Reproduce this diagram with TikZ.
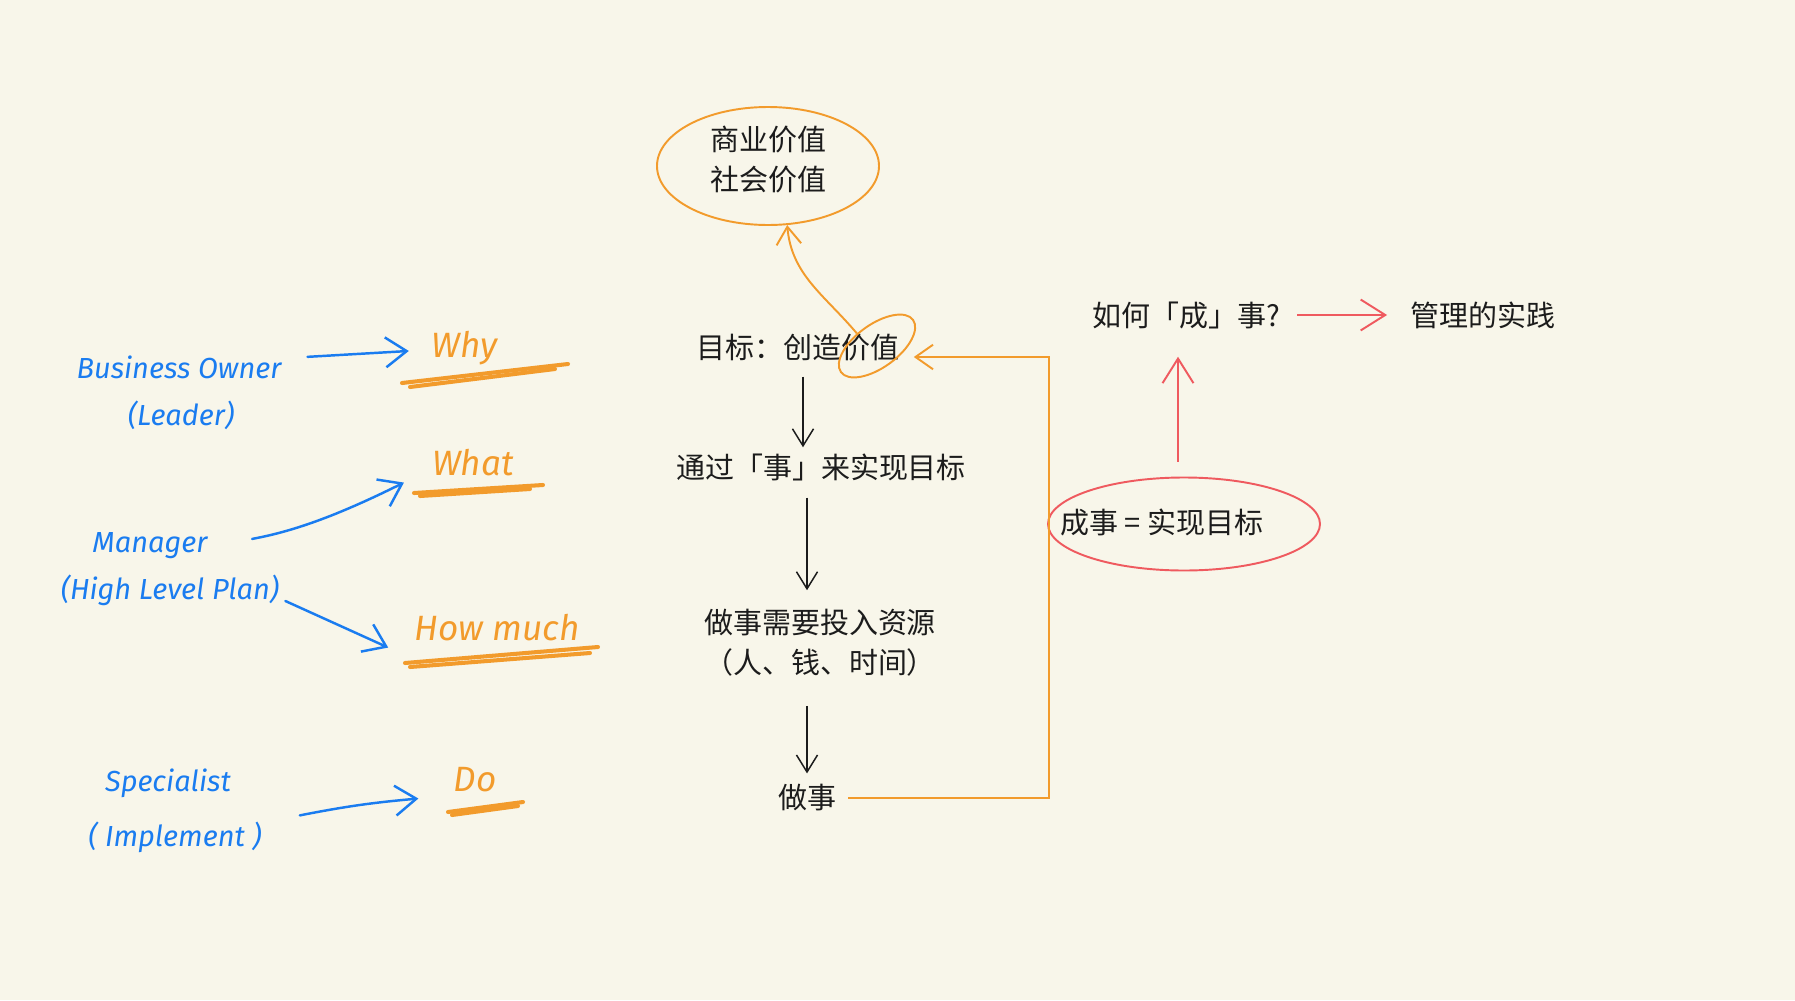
\documentclass[tikz,border=0pt]{standalone}
\usepackage{fontspec}
\setmainfont{Noto Sans CJK SC}
\newfontfamily\handfont{Fira Sans}
\usepackage{tikz}
\usetikzlibrary{positioning, arrows.meta, shapes.geometric}

\definecolor{paper}{HTML}{F8F6EA}
\definecolor{inkblue}{HTML}{1A7CF0}
\definecolor{inkorange}{HTML}{F29B2C}
\definecolor{inkred}{HTML}{EF5A5F}
\definecolor{inkblack}{HTML}{1C1C1C}

\begin{document}
\begin{tikzpicture}[x=0.2mm, y=-0.2mm, node distance=2mm,
  cn/.style={text=inkblack, font=\fontsize{16.5}{22.8}\selectfont, align=center},
  hw/.style={text=inkblue, font=\handfont\itshape\fontsize{16.5}{20}\selectfont},
  ask/.style={text=inkorange, font=\handfont\itshape\fontsize{20}{24}\selectfont},
  flowarrow/.style={draw=inkblack, line width=0.85pt, -{Straight Barb[length=9.7pt, width=12pt]}},
  handarrow/.style={draw=inkblue, line width=1.4pt, line cap=round, -{Straight Barb[length=12pt, width=17pt]}},
  backline/.style={draw=inkorange, line width=1.1pt, -{Straight Barb[length=10pt, width=14pt]}},
  redarrow/.style={draw=inkred, line width=1.1pt, -{Straight Barb[length=14pt, width=17.6pt]}},
  scribble/.style={draw=inkorange, line width=2.3pt, line cap=round},
  ring/.style={draw, ellipse, line width=1.1pt, inner sep=0pt},
]
\fill[paper] (0,0) rectangle (1795,1000);

% main chain
\node[ring, draw=inkorange, minimum width=44.4mm, minimum height=23.6mm] (values) at (768,166) {};
\node[cn] (valuestext) at (768,160) {商业价值\\社会价值};
\node[cn] (goal) at (798,348) {目标：创造价值};
\node[ring, draw=inkorange, minimum width=17.8mm, minimum height=8.6mm, rotate=36] (valring) at (877,346) {};
\node[cn] (via) at (821,467) {通过「事」来实现目标};
\node[cn] (need) at (820,643) {做事需要投入资源\\（人、钱、时间）};
\node[cn] (doit) at (807,798) {做事};

% right part
\node[cn] (how) at (1186,315) {如何「成」事?};
\node[cn, right=23.6mm of how] (practice) {管理的实践};
\node[ring, draw=inkred, minimum width=54.4mm, minimum height=18.6mm] (success) at (1184,524) {};
\node[cn] (successtext) at (1162,522) {成事 = 实现目标};

% left part, hand written
\node[hw] (owner) at (179,367) {Business Owner};
\node[hw] (leader) at (181,415) {(Leader)};
\node[hw] (manager) at (150,546) {Manager};
\node[hw] (plan) at (170,590) {(High Level Plan)};
\node[hw] (specialist) at (168,783) {Specialist};
\node[hw] (implement) at (175,837) {( Implement )};

\node[ask] (why) at (465,348) {Why};
\node[ask] (what) at (473,463) {What};
\node[ask] (howmuch) at (497,628) {How much};
\node[ask] (do) at (475,780) {Do};

% underlines
\draw[scribble] (402,383) -- (568,364);
\draw[scribble] (410,387) -- (555,369);
\draw[scribble] (414,493) -- (543,485);
\draw[scribble] (420,496) -- (530,489);
\draw[scribble] (405,663) -- (598,647);
\draw[scribble] (410,667) -- (590,653);
\draw[scribble] (448,812) -- (523,802);
\draw[scribble] (452,815) -- (518,806);

% connectors
\draw[flowarrow, shorten <=1.8mm] ([xshift=1mm]goal.south) -- ([xshift=1mm]goal.south |- via.north);
\draw[flowarrow, shorten <=2.2mm, shorten >=2.6mm] (doit |- via.south) -- (doit |- need.north);
\draw[flowarrow, shorten <=4.6mm, shorten >=1mm] (doit |- need.south) -- (doit.north);

\coordinate (backx) at (1049,357);
\draw[backline, shorten <=1.2mm] (doit.east) -| (backx) -- (backx -| valring.east);
\draw[backline] (valring.112) to[out=130, in=-85] (values.-72);

\draw[redarrow, shorten <=3mm, shorten >=4.4mm] ([xshift=-1.2mm]success.north) -- ([xshift=-1.2mm]success.north |- how.south);
\draw[redarrow, shorten <=2.2mm, shorten >=3.4mm] (how.east) -- (practice.west);

\draw[handarrow, shorten <=4mm, shorten >=3.4mm] ([yshift=1.8mm]owner.east) -- ([yshift=-0.4mm]why.west);
\draw[handarrow, shorten <=7.8mm] (manager.east) to[bend right=8] ([xshift=-4.4mm]what.south west);
\draw[handarrow] ([yshift=-2.2mm]plan.east) -- ([xshift=-4mm]howmuch.south west);
\draw[handarrow] ([xshift=6.4mm]implement.north east) to[bend left=3] ([xshift=-5.8mm]do.south west);
\end{tikzpicture}
\end{document}
